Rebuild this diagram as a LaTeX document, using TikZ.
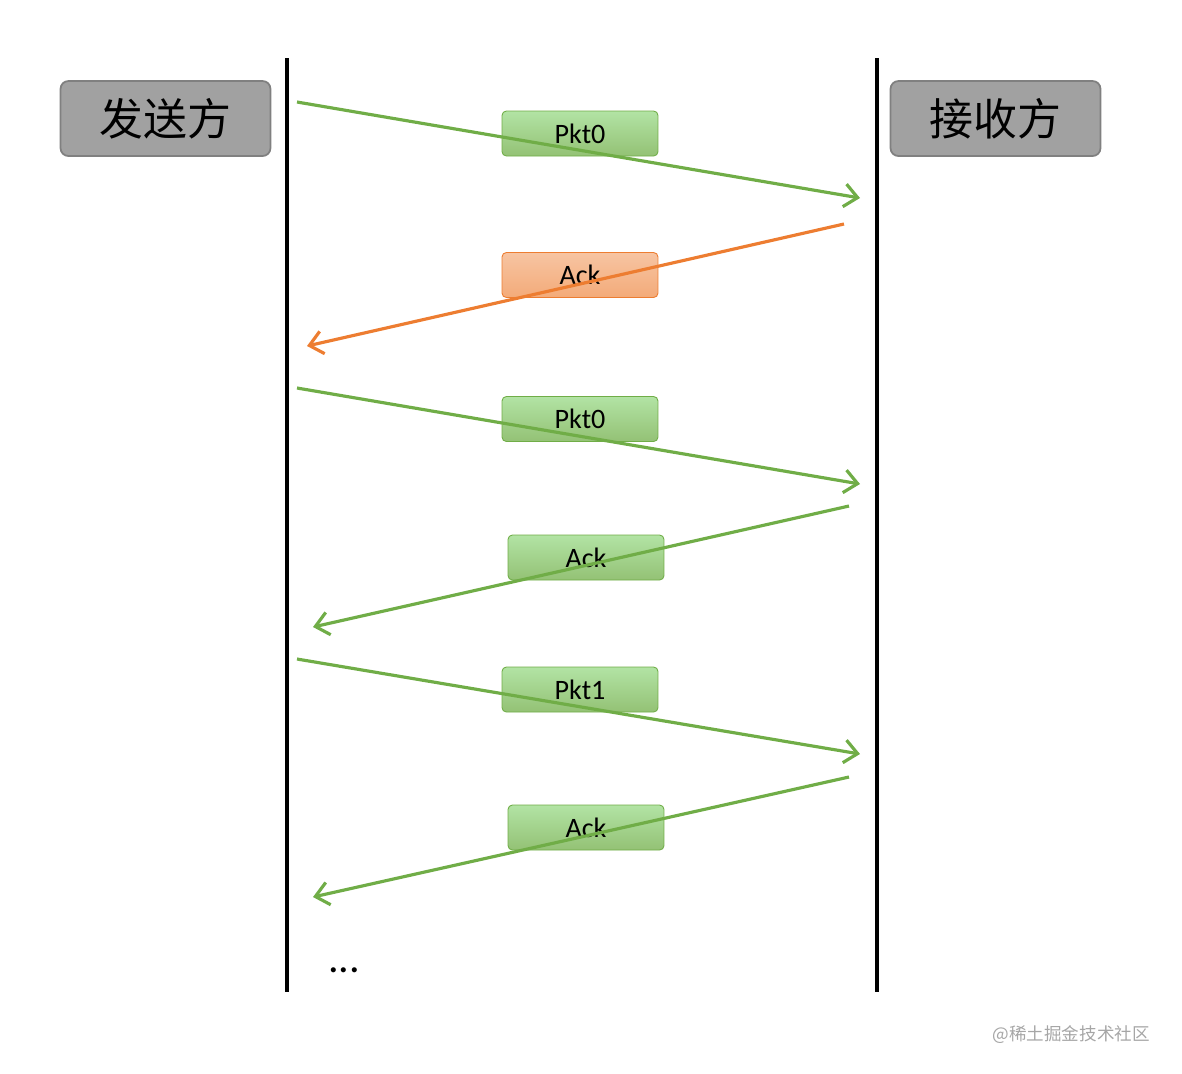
\documentclass[tikz,border=0pt]{standalone}
\usepackage{fontspec}
\setmainfont{Carlito}
\newfontfamily\cjk{Noto Sans CJK SC}
\usetikzlibrary{arrows.meta,positioning}

\definecolor{pktgreen}{HTML}{70AD47}
\definecolor{ackorange}{HTML}{ED7D31}

\begin{document}
\begin{tikzpicture}[
			x=0.02cm, y=-0.02cm,
			party/.style={rectangle, draw=black!50, line width=1pt, fill=black!37, rounded corners=4.5pt, minimum width=4.2cm, minimum height=1.5cm, font=\cjk\fontsize{25}{28}\selectfont},
			msg/.style={rectangle, draw=pktgreen, line width=0.5pt, rounded corners=2.5pt, minimum width=3.12cm, minimum height=0.9cm, font=\fontsize{16}{18}\selectfont, top color=green!25!pktgreen!45, bottom color=pktgreen!75},
			ackmsg/.style={msg, draw=ackorange, top color=ackorange!45, bottom color=ackorange!65},
			timeline/.style={line width=2.3pt},
			send/.style={draw=pktgreen, line width=1.8pt, -{Straight Barb[length=7.5pt,width=13pt]}},
			back/.style={send, draw=ackorange}
		]
		\useasboundingbox (0,0) rectangle (1182,1073);

		% the two parties
		\node[party] (Sender) at (165.5,118.5) {发送方};
		\node[party] (Receiver) at (995.5,118.5) {接收方};

		% time lines
		\coordinate (SenderTop) at (287,58);
		\coordinate (SenderBottom) at (287,992);
		\coordinate (ReceiverTop) at (877,58);
		\coordinate (ReceiverBottom) at (877,992);
		\draw[timeline] (SenderTop) -- (SenderBottom);
		\draw[timeline] (ReceiverTop) -- (ReceiverBottom);

		% message labels
		\node[msg] (Pkt0a) at (580,133.5) {Pkt0};
		\node[ackmsg] (AckLost) at (580,275) {Ack};
		\node[msg] (Pkt0b) at (580,419) {Pkt0};
		\node[msg] (AckOk) at (586,557.5) {Ack};
		\node[msg] (Pkt1) at (580,689.5) {Pkt1};
		\node[msg] (AckNext) at (586,827.5) {Ack};

		% end points of the messages
		\coordinate (S1) at (297,102);   \coordinate (R1) at (860,198);
		\coordinate (R2) at (844,224);   \coordinate (S2) at (307,346);
		\coordinate (S3) at (297,388);   \coordinate (R3) at (860,484);
		\coordinate (R4) at (849,506);   \coordinate (S4) at (313,627);
		\coordinate (S5) at (297,659);   \coordinate (R5) at (860,754);
		\coordinate (R6) at (849,777);   \coordinate (S6) at (313,897);

		\draw[send] (S1) -- (R1);
		\draw[back] (R2) -- (S2);
		\draw[send] (S3) -- (R3);
		\draw[send] (R4) -- (S4);
		\draw[send] (S5) -- (R5);
		\draw[send] (R6) -- (S6);

		\node[font=\fontsize{24}{26}\selectfont] (More) at (344,970) {...};

		\node[anchor=east, text=black!35, font=\cjk\fontsize{10}{12}\selectfont] (Mark) at (1156,1035) {@稀土掘金技术社区};

	\end{tikzpicture}
\end{document}
